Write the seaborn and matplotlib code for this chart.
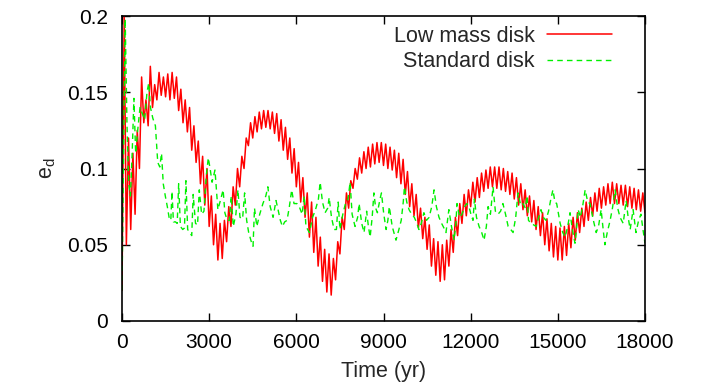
import numpy as np
import pandas as pd
import matplotlib
matplotlib.use("Agg")
import matplotlib.pyplot as plt
import seaborn as sns

# ---------------- data ----------------
# Low mass disk: alternating lows (t = 0, 150, ...) and highs (t = 75, 225, ...)
red_step = 75  # yr between successive samples
red_low = [0.020, 0.050, 0.060, 0.070, 0.100, 0.130, 0.128, 0.140, 0.145, 0.148,
           0.147, 0.145, 0.146, 0.138, 0.130, 0.124, 0.112, 0.104, 0.090, 0.076,
           0.062, 0.050, 0.040, 0.041, 0.052, 0.062, 0.076, 0.088, 0.100, 0.115,
           0.120, 0.124, 0.126, 0.127, 0.126, 0.123, 0.118, 0.112, 0.106, 0.097,
           0.088, 0.078, 0.068, 0.055, 0.045, 0.036, 0.026, 0.019, 0.017, 0.027,
           0.044, 0.060, 0.074, 0.087, 0.093, 0.097, 0.100, 0.101, 0.103, 0.104,
           0.102, 0.100, 0.099, 0.094, 0.090, 0.083, 0.075, 0.069, 0.061, 0.054,
           0.047, 0.036, 0.030, 0.026, 0.027, 0.036, 0.045, 0.056, 0.064, 0.069,
           0.075, 0.078, 0.081, 0.085, 0.087, 0.088, 0.087, 0.086, 0.085, 0.083,
           0.080, 0.076, 0.073, 0.069, 0.065, 0.060, 0.056, 0.050, 0.046, 0.042,
           0.040, 0.040, 0.043, 0.048, 0.053, 0.058, 0.062, 0.066, 0.069, 0.072,
           0.074, 0.076, 0.077, 0.077, 0.077, 0.076, 0.075, 0.074, 0.073, 0.072,
           0.071]
red_high = [0.200, 0.120, 0.110, 0.125, 0.160, 0.145, 0.167, 0.155, 0.163, 0.160,
            0.162, 0.163, 0.160, 0.152, 0.145, 0.140, 0.128, 0.118, 0.108, 0.100,
            0.082, 0.070, 0.064, 0.066, 0.075, 0.088, 0.100, 0.108, 0.120, 0.130,
            0.134, 0.137, 0.138, 0.138, 0.137, 0.136, 0.132, 0.127, 0.120, 0.113,
            0.104, 0.094, 0.084, 0.078, 0.068, 0.055, 0.047, 0.044, 0.041, 0.052,
            0.068, 0.084, 0.092, 0.100, 0.107, 0.111, 0.114, 0.116, 0.117, 0.117,
            0.116, 0.114, 0.112, 0.110, 0.106, 0.098, 0.090, 0.083, 0.074, 0.068,
            0.063, 0.054, 0.052, 0.050, 0.053, 0.060, 0.068, 0.077, 0.083, 0.086,
            0.091, 0.094, 0.097, 0.099, 0.101, 0.101, 0.101, 0.100, 0.098, 0.097,
            0.094, 0.090, 0.086, 0.082, 0.079, 0.075, 0.071, 0.067, 0.064, 0.062,
            0.061, 0.062, 0.064, 0.068, 0.071, 0.074, 0.078, 0.081, 0.084, 0.087,
            0.088, 0.090, 0.091, 0.090, 0.089, 0.089, 0.088, 0.087, 0.086, 0.084]

# Standard disk: (time, e_d) breakpoints
green_t = [0, 60, 110, 170, 230, 290, 350, 410, 470, 540, 620, 700, 780, 860, 920,
           980, 1060, 1150, 1230, 1300, 1360, 1420, 1490, 1560, 1620, 1680, 1720,
           1770, 1840, 1900, 1950, 2010, 2090, 2150, 2200, 2260, 2330, 2400, 2450,
           2530, 2600, 2660, 2740, 2820, 2900, 2970, 3040, 3100, 3200, 3300, 3400,
           3480, 3540, 3620, 3700, 3760, 3830, 3920, 3990, 4060, 4150, 4220, 4290,
           4360, 4450, 4510, 4560, 4640, 4740, 4850, 4950, 5020, 5100, 5200, 5300,
           5360, 5450, 5520, 5600, 5680, 5760, 5840, 5920, 6020, 6100, 6200, 6270,
           6330, 6450, 6560, 6660, 6760, 6820, 6900, 6990, 7080, 7130, 7210, 7300,
           7380, 7440, 7500, 7600, 7690, 7780, 7850, 7920, 8020, 8110, 8160, 8250,
           8330, 8420, 8480, 8540, 8610, 8670, 8730, 8790, 8880, 8930, 9010, 9090,
           9150, 9200, 9300, 9430, 9530, 9610, 9680, 9720, 9800, 9880, 9970, 10060,
           10150, 10220, 10300, 10390, 10480, 10570, 10660, 10740, 10820, 10910,
           11000, 11080, 11150, 11250, 11340, 11430, 11490, 11530, 11620, 11700,
           11790, 11870, 11940, 12010, 12080, 12130, 12200, 12290, 12380, 12460,
           12540, 12600, 12680, 12770, 12850, 12940, 13030, 13110, 13200, 13290,
           13380, 13460, 13550, 13630, 13720, 13800, 13880, 13940, 13990, 14080,
           14170, 14250, 14340, 14420, 14500, 14590, 14680, 14760, 14830, 14900,
           14960, 15080, 15170, 15250, 15340, 15420, 15500, 15590, 15650, 15700,
           15780, 15860, 15940, 16030, 16110, 16200, 16320, 16400, 16490, 16560,
           16620, 16700, 16800, 16880, 16970, 17060, 17140, 17250, 17350, 17420,
           17490, 17590, 17690, 17780, 17860, 17930, 18000]
green_e = [0.020, 0.120, 0.198, 0.130, 0.090, 0.082, 0.110, 0.146, 0.110, 0.125,
           0.140, 0.136, 0.132, 0.150, 0.156, 0.140, 0.133, 0.128, 0.104, 0.101,
           0.110, 0.090, 0.082, 0.075, 0.068, 0.066, 0.085, 0.065, 0.065, 0.064,
           0.090, 0.062, 0.060, 0.061, 0.092, 0.060, 0.058, 0.056, 0.083, 0.064,
           0.063, 0.086, 0.070, 0.072, 0.095, 0.107, 0.099, 0.091, 0.099, 0.073,
           0.080, 0.086, 0.071, 0.066, 0.066, 0.082, 0.062, 0.070, 0.086, 0.068,
           0.067, 0.084, 0.066, 0.058, 0.052, 0.049, 0.074, 0.062, 0.070, 0.077,
           0.082, 0.088, 0.075, 0.068, 0.079, 0.074, 0.066, 0.062, 0.065, 0.066,
           0.075, 0.086, 0.077, 0.077, 0.075, 0.070, 0.082, 0.062, 0.058, 0.068,
           0.073, 0.080, 0.091, 0.078, 0.071, 0.074, 0.081, 0.068, 0.060, 0.060,
           0.078, 0.060, 0.070, 0.077, 0.080, 0.091, 0.070, 0.062, 0.068, 0.077,
           0.064, 0.058, 0.072, 0.062, 0.055, 0.068, 0.084, 0.074, 0.071, 0.080,
           0.084, 0.070, 0.060, 0.066, 0.075, 0.062, 0.053, 0.060, 0.066, 0.078,
           0.088, 0.078, 0.073, 0.070, 0.068, 0.064, 0.060, 0.064, 0.071, 0.066,
           0.068, 0.075, 0.086, 0.075, 0.068, 0.064, 0.061, 0.058, 0.073, 0.062,
           0.053, 0.064, 0.077, 0.068, 0.070, 0.075, 0.077, 0.075, 0.070, 0.066,
           0.080, 0.068, 0.062, 0.058, 0.053, 0.062, 0.075, 0.070, 0.088, 0.072,
           0.070, 0.072, 0.077, 0.070, 0.062, 0.060, 0.058, 0.068, 0.084, 0.076,
           0.077, 0.074, 0.082, 0.066, 0.064, 0.063, 0.062, 0.068, 0.073, 0.068,
           0.066, 0.072, 0.080, 0.086, 0.078, 0.077, 0.064, 0.058, 0.055, 0.062,
           0.071, 0.060, 0.051, 0.062, 0.073, 0.068, 0.076, 0.086, 0.078, 0.077,
           0.068, 0.058, 0.062, 0.073, 0.060, 0.050, 0.058, 0.066, 0.074, 0.086,
           0.074, 0.068, 0.064, 0.079, 0.068, 0.060, 0.073, 0.058, 0.066, 0.070,
           0.060, 0.051]

x_ticks = [0, 3000, 6000, 9000, 12000, 15000, 18000]
y_ticks = [0, 0.05, 0.1, 0.15, 0.2]
y_tick_labels = ["0", "0.05", "0.1", "0.15", "0.2"]
label_red = "Low mass disk"
label_green = "Standard disk"

# ---------------- build tables ----------------
red_vals = []
for i in range(len(red_low)):
    red_vals.append(red_low[i])
    if i < len(red_high):
        red_vals.append(red_high[i])
red_df = pd.DataFrame({"t": np.arange(len(red_vals)) * red_step, "e": red_vals})
green_df = pd.DataFrame({"t": green_t, "e": green_e})

# ---------------- plot ----------------
sns.set_style("ticks")
plt.rcParams["font.family"] = ["Liberation Sans", "DejaVu Sans"]
plt.rcParams["font.size"] = 15

fig = plt.figure(figsize=(7.05, 3.9), dpi=100)
ax = fig.add_axes([122 / 705, 1 - 321 / 390, (645 - 122) / 705, (321 - 16) / 390])

green_col = "#00f000"
sns.lineplot(data=red_df, x="t", y="e", ax=ax, color="#ff0000", linewidth=1.1,
             estimator=None, sort=False, label=label_red)
sns.lineplot(data=green_df, x="t", y="e", ax=ax, color=green_col, linewidth=1.0,
             estimator=None, sort=False, label=label_green)
ax.lines[1].set_dashes([4, 3])

ax.set_xlim(0, 18000)
ax.set_ylim(0, 0.2)
ax.set_xticks(x_ticks)
ax.set_xticklabels([str(v) for v in x_ticks])
ax.set_yticks(y_ticks)
ax.set_yticklabels(y_tick_labels)
ax.tick_params(direction="in", length=6, width=1.0, top=True, right=True,
               labelsize=15, colors="black")
ax.tick_params(axis="x", pad=9)
ax.tick_params(axis="y", pad=10)
for s in ax.spines.values():
    s.set_visible(True)
    s.set_linewidth(1.2)
    s.set_color("black")

ax.set_xlabel("Time (yr)", fontsize=15.5, labelpad=6)
ax.set_ylabel(r"e$_\mathregular{d}$", fontsize=15.5, labelpad=7)

leg = ax.legend(loc="upper right", bbox_to_anchor=(0.937, 0.968), frameon=False,
                markerfirst=False, handlelength=3.0, handletextpad=0.6,
                labelspacing=0.2, fontsize=15.5, borderpad=0.0,
                borderaxespad=0.0)
leg.get_lines()[1].set_dashes([4, 3])

fig.savefig("out.png", dpi=100)
